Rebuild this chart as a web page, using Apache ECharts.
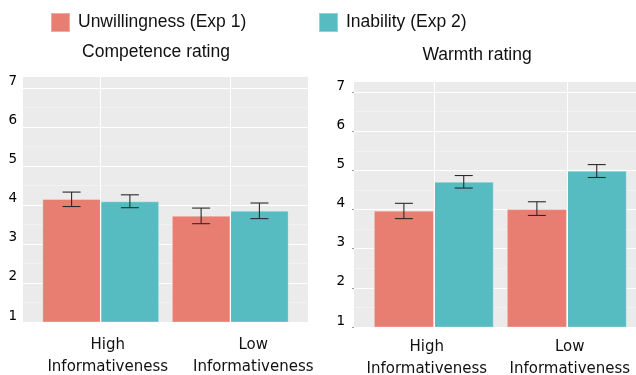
<!DOCTYPE html>
<html><head><meta charset="utf-8">
<script src="https://cdn.jsdelivr.net/npm/echarts@6/dist/echarts.min.js"></script>
<style>html,body{margin:0;padding:0;background:#fff}#c{width:636px;height:375px}</style>
</head><body><div id="c"></div>
<script>
// ---- data ----
const categories = ['High', 'Low'];
const categorySubtitle = 'Informativeness';
const seriesNames = ['Unwillingness (Exp 1)', 'Inability (Exp 2)'];
const panelTitles = ['Competence rating', 'Warmth rating'];

const competenceUnwilling   = [4.15, 3.72];
const competenceUnwillingLo = [3.96, 3.52];
const competenceUnwillingHi = [4.33, 3.92];
const competenceInability   = [4.09, 3.85];
const competenceInabilityLo = [3.93, 3.65];
const competenceInabilityHi = [4.26, 4.05];

const warmthUnwilling   = [3.97, 4.01];
const warmthUnwillingLo = [3.77, 3.85];
const warmthUnwillingHi = [4.16, 4.20];
const warmthInability   = [4.71, 4.99];
const warmthInabilityLo = [4.55, 4.82];
const warmthInabilityHi = [4.87, 5.15];

const yTicks = [1, 2, 3, 4, 5, 6, 7];

// ---- styles ----
const RED = '#E87D72', TEAL = '#56BCC2';
const FONT = 'DejaVu Sans', TFONT = 'Liberation Sans';

const catPos = categories.map((c, i) => i + 1);

function barSeries(name, vals, xi, yi, color) {
  return {
    name, type: 'bar', xAxisIndex: xi, yAxisIndex: yi,
    data: catPos.map((p, i) => [p, vals[i]]),
    barWidth: '45%', barGap: '0%',
    itemStyle: { color, borderColor: 'rgba(255,255,255,0.35)', borderWidth: 0.8 },
    emphasis: { disabled: true }, z: 2
  };
}
function errSeries(name, lo, hi, xi, yi, dx) {
  return {
    name, type: 'custom', xAxisIndex: xi, yAxisIndex: yi, z: 3, silent: true,
    data: catPos.map((p, i) => [p, lo[i], hi[i]]),
    encode: { x: 0, y: [1, 2] },
    renderItem(params, api) {
      const x = api.value(0) + dx;
      const a = api.coord([x, api.value(1)]);
      const b = api.coord([x, api.value(2)]);
      const hw = 9;
      const st = { stroke: '#2b2b2b', lineWidth: 1.1 };
      return { type: 'group', children: [
        { type: 'line', shape: { x1: a[0], y1: a[1], x2: b[0], y2: b[1] }, style: st },
        { type: 'line', shape: { x1: a[0] - hw, y1: a[1], x2: a[0] + hw, y2: a[1] }, style: st },
        { type: 'line', shape: { x1: b[0] - hw, y1: b[1], x2: b[0] + hw, y2: b[1] }, style: st }
      ]};
    }
  };
}
function vGrid(xi, yi) {
  return {
    name: 'vgrid' + xi, type: 'line', xAxisIndex: xi, yAxisIndex: yi, data: [], z: 1, silent: true,
    markLine: {
      silent: true, symbol: 'none', label: { show: false },
      lineStyle: { color: '#ffffff', width: 1, type: 'solid' },
      animation: false,
      data: catPos.map(p => ({ xAxis: p }))
    }
  };
}
// one x axis per category label (so the two wide labels never hide each other)
function xAxis(gi, ci, margin, pad) {
  return {
    type: 'value', gridIndex: gi, position: 'bottom', min: 0.4, max: 2.6,
    axisLine: { show: false }, axisTick: { show: false, customValues: [catPos[ci]] }, splitLine: { show: false },
    axisLabel: {
      customValues: [catPos[ci]], margin, showMinLabel: true, showMaxLabel: true, hideOverlap: false,
      fontFamily: FONT, fontSize: 15, color: '#111', lineHeight: 22,
      formatter: () => '{c|' + categories[ci] + '}\n{c|' + categorySubtitle + '}',
      rich: { c: { fontFamily: FONT, fontSize: 15, color: '#111', lineHeight: 22, padding: pad } }
    }
  };
}
function yAxis(gi, max, margin, tick) {
  return {
    type: 'value', gridIndex: gi, min: yTicks[0], max, interval: 1,
    axisLine: { show: false },
    axisTick: { show: tick, length: 2, lineStyle: { color: '#999' }, customValues: yTicks },
    splitLine: { show: true, lineStyle: { color: '#ffffff', width: 1 } },
    minorTick: { show: false, splitNumber: 2 },
    minorSplitLine: { show: true, lineStyle: { color: '#F5F5F5', width: 0.6 } },
    axisLabel: {
      margin, fontFamily: FONT, fontSize: 13.5, color: '#000',
      verticalAlign: 'bottom', lineHeight: 12,
      showMinLabel: true, showMaxLabel: true, hideOverlap: false,
      formatter: v => (yTicks.indexOf(v) >= 0 ? String(v) : '')
    }
  };
}

const legendText = { fontSize: 17.5, fontFamily: TFONT, color: '#111', padding: [0, 0, 0, 3] };
const titleText = { fontSize: 17.5, fontFamily: TFONT, fontWeight: 'normal', color: '#111' };

const option = {
  animation: false,
  backgroundColor: '#ffffff',
  title: [
    { text: panelTitles[0], left: 156, top: 43, textAlign: 'center', padding: 0, textStyle: titleText },
    { text: panelTitles[1], left: 477, top: 46, textAlign: 'center', padding: 0, textStyle: titleText }
  ],
  legend: [
    { data: [seriesNames[0]], left: 50, top: 12, padding: 0, itemWidth: 19, itemHeight: 19, icon: 'rect', textStyle: legendText, selectedMode: false },
    { data: [seriesNames[1]], left: 318, top: 12, padding: 0, itemWidth: 19, itemHeight: 19, icon: 'rect', textStyle: legendText, selectedMode: false }
  ],
  grid: [
    { left: 23, top: 77, width: 285, height: 245, show: true, backgroundColor: '#EBEBEB', borderWidth: 0, outerBoundsMode: 'none', containLabel: false },
    { left: 354, top: 82, width: 292.6, height: 245, show: true, backgroundColor: '#EBEBEB', borderWidth: 0, outerBoundsMode: 'none', containLabel: false }
  ],
  xAxis: [
    xAxis(0, 0, 12, [0, 0, 0, 14]), xAxis(0, 1, 12, [0, 0, 0, 46]),
    xAxis(1, 0, 9, [0, 14, 0, 0]),  xAxis(1, 1, 9, [0, 0, 0, 6])
  ],
  yAxis: [ yAxis(0, 7.28, 6, false), yAxis(1, 7.26, 9, true) ],
  series: [
    vGrid(0, 0), vGrid(2, 1),
    barSeries(seriesNames[0], competenceUnwilling, 0, 0, RED),
    barSeries(seriesNames[1], competenceInability, 0, 0, TEAL),
    barSeries(seriesNames[0], warmthUnwilling, 2, 1, RED),
    barSeries(seriesNames[1], warmthInability, 2, 1, TEAL),
    errSeries('err0a', competenceUnwillingLo, competenceUnwillingHi, 0, 0, -0.225),
    errSeries('err0b', competenceInabilityLo, competenceInabilityHi, 0, 0, 0.225),
    errSeries('err1a', warmthUnwillingLo, warmthUnwillingHi, 2, 1, -0.225),
    errSeries('err1b', warmthInabilityLo, warmthInabilityHi, 2, 1, 0.225)
  ]
};
const chart = echarts.init(document.getElementById('c'), null, { renderer: 'canvas' });
chart.setOption(option);
</script>
</body></html>
